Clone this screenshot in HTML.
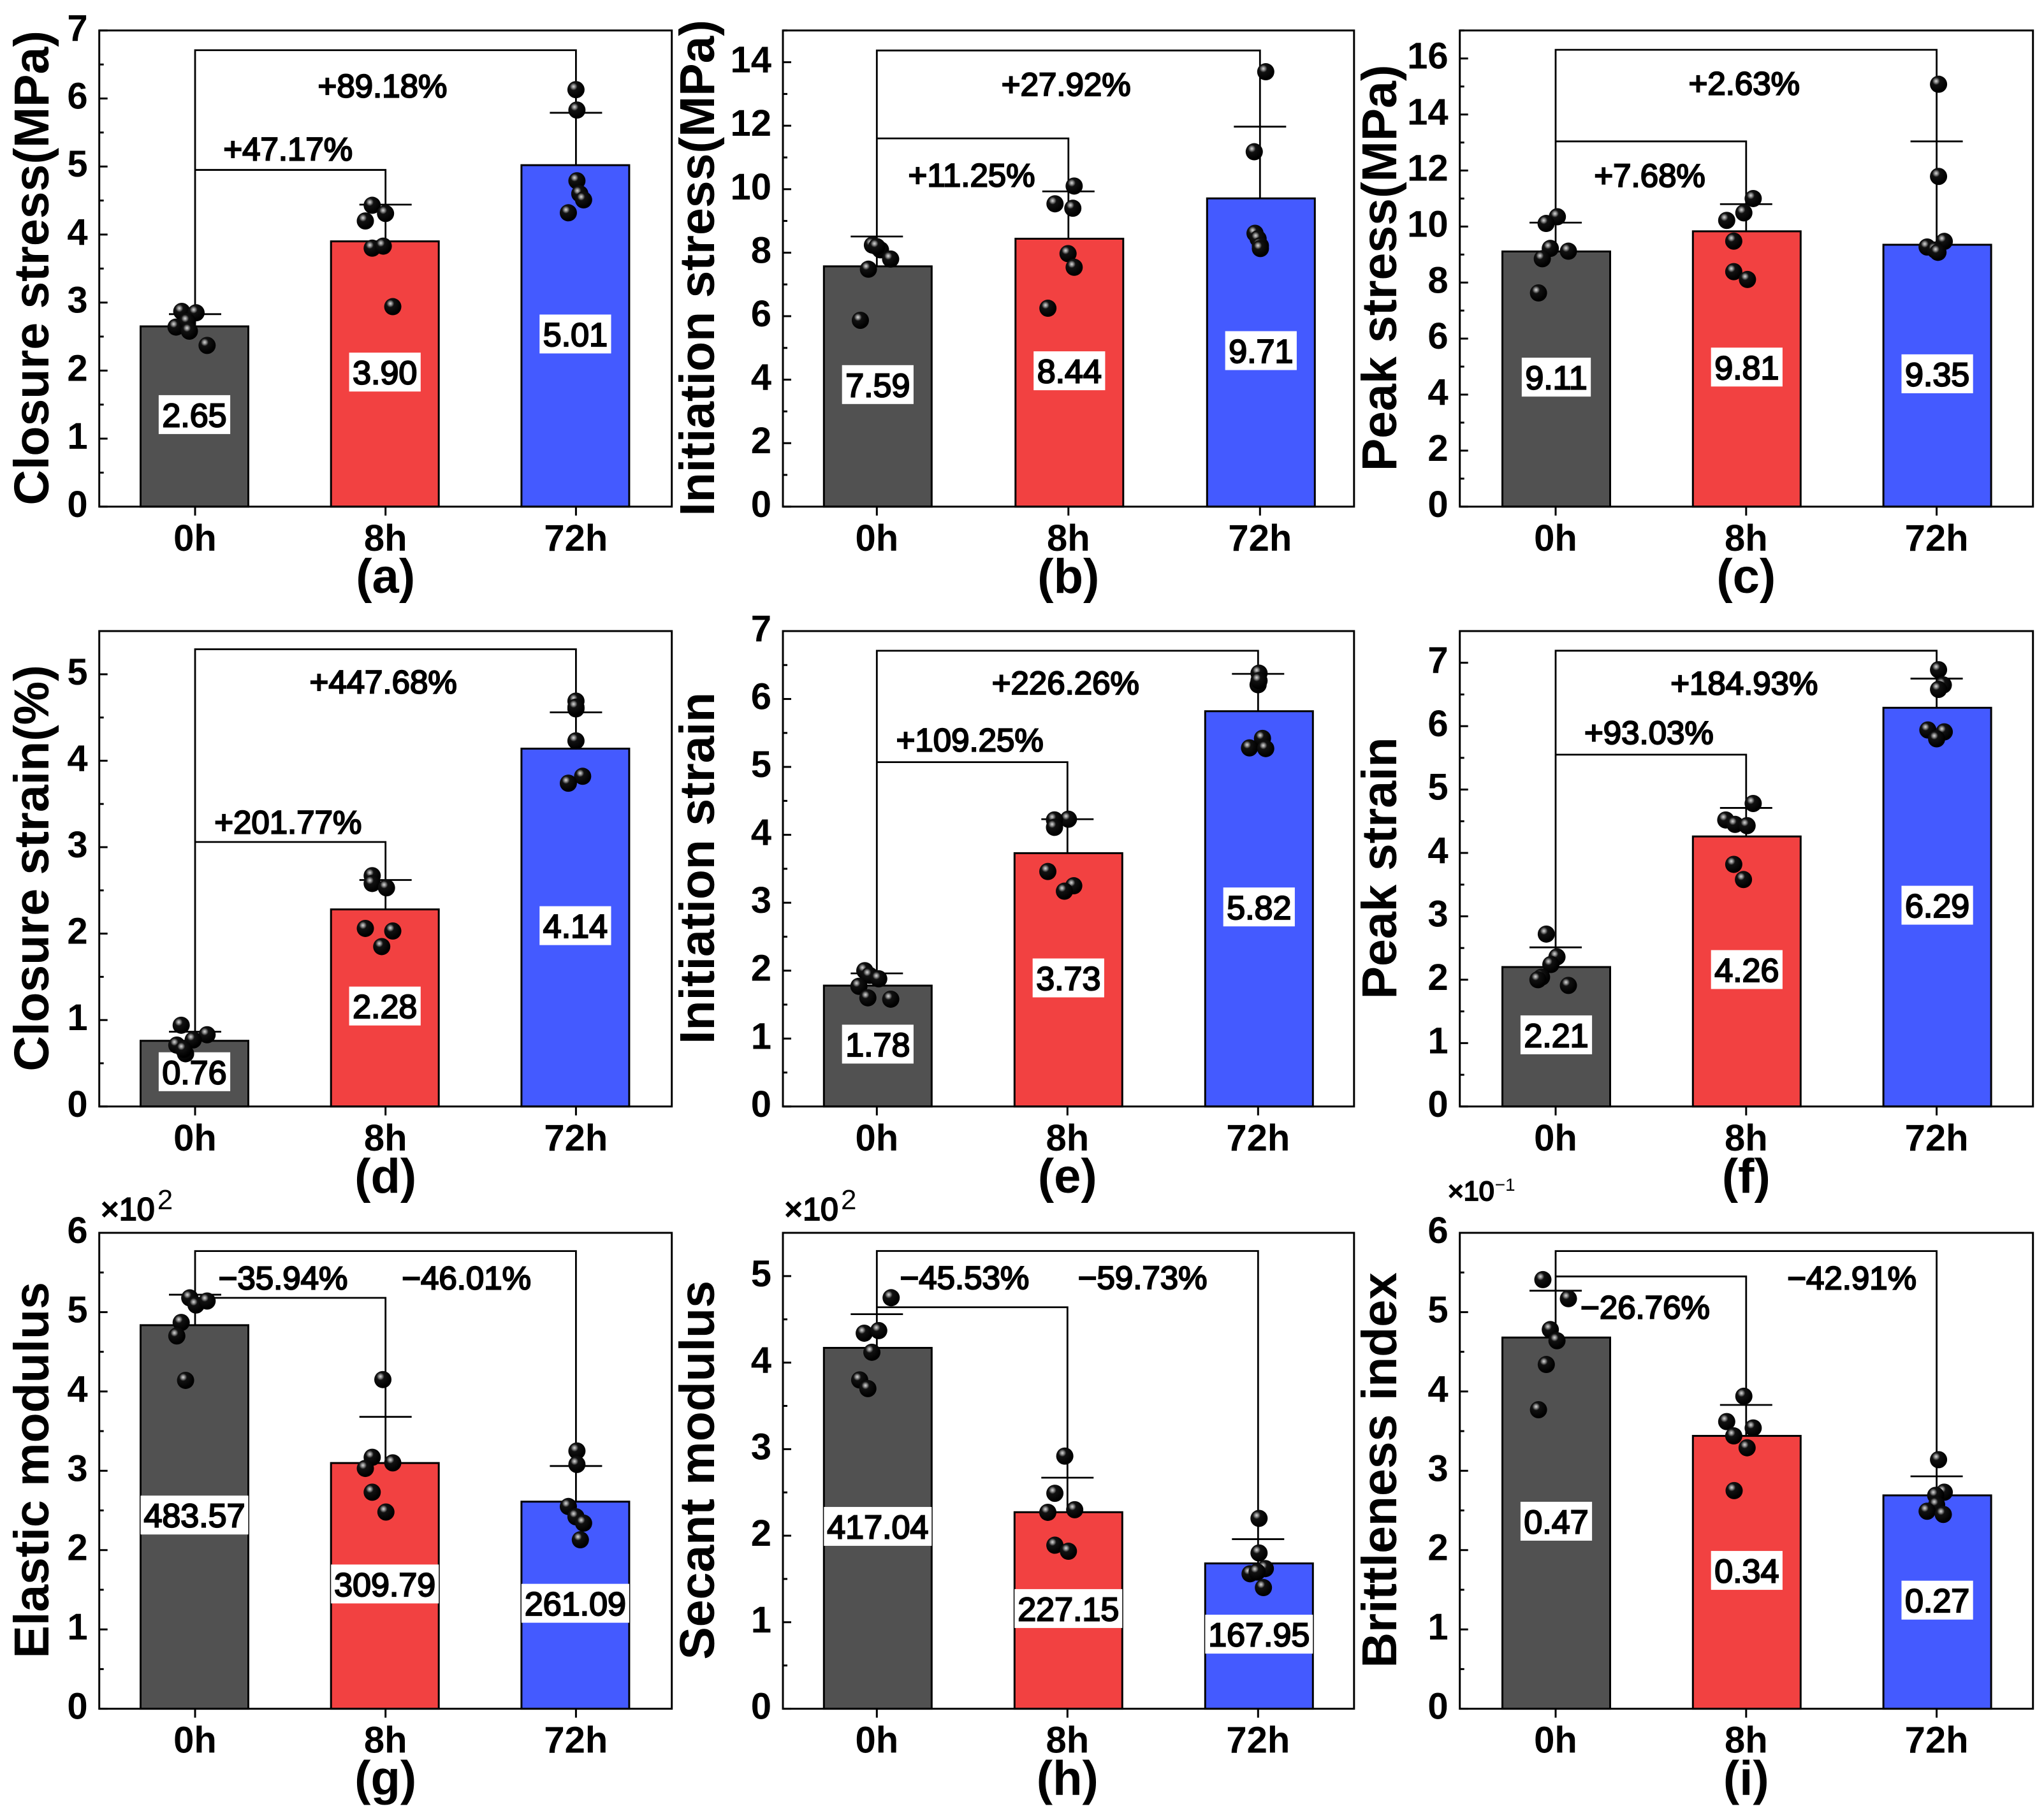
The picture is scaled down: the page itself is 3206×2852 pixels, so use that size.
<!DOCTYPE html>
<html lang="en">
<head>
<meta charset="utf-8">
<title>Mechanical properties at 0h, 8h and 72h</title>
<style>
  html, body { margin: 0; padding: 0; background: #fff; }
  svg { display: block; }
  text { font-family: "Liberation Sans", Arial, sans-serif; fill: #000; }
</style>
</head>
<body>
<svg id="figure" xmlns="http://www.w3.org/2000/svg" width="3206" height="2852" viewBox="0 0 3206 2852">
  <defs>
    <radialGradient id="sphere" cx="0.36" cy="0.32" r="0.62">
      <stop offset="0" stop-color="#d8d8d8"/>
      <stop offset="0.16" stop-color="#8a8a8a"/>
      <stop offset="0.36" stop-color="#111"/>
      <stop offset="1" stop-color="#000"/>
    </radialGradient>
  </defs>
  <rect x="0" y="0" width="3206" height="2852" fill="#ffffff"/>
</svg>
<script>
// ---------- shared category data ----------
const categories = ['0h', '8h', '72h'];
const barColors = ['#515151', '#F24141', '#445AFF'];

// ---------- panel (a) closure stress ----------
const aTitle = 'Closure stress(MPa)';
const aYMax = 7;
const aYTicks = [0, 1, 2, 3, 4, 5, 6, 7];
const aBars = [2.65, 3.90, 5.02];
const aLabels = ['2.65', '3.90', '5.01'];
const aCaps = [2.83, 4.44, 5.79];
const aPoints = [[2.87, 2.85, 2.64, 2.72, 2.58, 2.37], [4.43, 4.31, 4.20, 3.80, 3.83, 2.94], [6.13, 5.83, 4.79, 4.60, 4.51, 4.32]];
const aJitter = [[-0.07, 0.005, -0.1, -0.04, -0.03, 0.063], [-0.07, 0, -0.106, -0.07, -0.012, 0.038], [0, 0.005, 0.005, 0.02, 0.04, -0.04]];
const aBrackets = [6.71, 4.95];
const aPercents = ['+89.18%', '+47.17%'];
const aPercentCat = [0.984, 0.488];
const aPercentVal = [6.02, 5.09];

// ---------- panel (b) initiation stress ----------
const bTitle = 'Initiation stress(MPa)';
const bYMax = 15;
const bYTicks = [0, 2, 4, 6, 8, 10, 12, 14];
const bBars = [7.57, 8.44, 9.71];
const bLabels = ['7.59', '8.44', '9.71'];
const bCaps = [8.51, 9.93, 11.97];
const bPoints = [[8.24, 8.09, 7.80, 7.48, 5.87, 8.19], [10.10, 9.54, 9.40, 7.97, 7.54, 6.25], [13.70, 11.18, 8.61, 8.44, 8.22, 8.13]];
const bJitter = [[-0.023, 0.019, 0.072, -0.044, -0.086, 0], [0.03, -0.07, 0.023, -0.002, 0.03, -0.107], [0.03, -0.03, -0.026, -0.01, 0.002, 0.002]];
const bBrackets = [14.37, 11.60];
const bPercents = ['+27.92%', '+11.25%'];
const bPercentCat = [0.988, 0.495];
const bPercentVal = [12.95, 10.09];

// ---------- panel (c) peak stress ----------
const cTitle = 'Peak stress(MPa)';
const cYMax = 17;
const cYTicks = [0, 2, 4, 6, 8, 10, 12, 14, 16];
const cBars = [9.11, 9.83, 9.35];
const cLabels = ['9.11', '9.81', '9.35'];
const cCaps = [10.14, 10.80, 13.04];
const cPoints = [[10.35, 10.11, 9.22, 8.85, 9.12, 7.63], [11.0, 10.49, 10.22, 9.48, 8.39, 8.11], [15.08, 11.79, 9.47, 9.27, 9.16, 9.08]];
const cJitter = [[0.009, -0.05, -0.028, -0.07, 0.067, -0.09], [0.037, -0.012, -0.102, -0.065, -0.065, 0.007], [0.01, 0.01, 0.04, -0.05, -0.007, 0.007]];
const cBrackets = [16.31, 13.04];
const cPercents = ['+2.63%', '+7.68%'];
const cPercentCat = [0.99, 0.494];
const cPercentVal = [14.71, 11.42];

// ---------- panel (d) closure strain ----------
const dTitle = 'Closure strain(%)';
const dYMax = 5.5;
const dYTicks = [0, 1, 2, 3, 4, 5];
const dBars = [0.76, 2.28, 4.14];
const dLabels = ['0.76', '2.28', '4.14'];
const dCaps = [0.865, 2.62, 4.56];
const dPoints = [[0.94, 0.83, 0.77, 0.71, 0.61, 0.66], [2.67, 2.58, 2.53, 2.06, 2.03, 1.85], [4.69, 4.60, 4.23, 3.82, 3.74, 4.62]];
const dJitter = [[-0.073, 0.063, -0.01, -0.096, -0.05, -0.06], [-0.07, -0.07, 0.005, -0.106, 0.038, -0.02], [0, 0, 0, 0.035, -0.04, 0]];
const dBrackets = [5.29, 3.06];
const dPercents = ['+447.68%', '+201.77%'];
const dPercentCat = [0.988, 0.488];
const dPercentVal = [4.78, 3.16];

// ---------- panel (e) initiation strain ----------
const eTitle = 'Initiation strain';
const eYMax = 7;
const eYTicks = [0, 1, 2, 3, 4, 5, 6, 7];
const eBars = [1.78, 3.73, 5.82];
const eLabels = ['1.78', '3.73', '5.82'];
const eCaps = [1.96, 4.23, 6.37];
const ePoints = [[2.0, 1.93, 1.88, 1.77, 1.60, 1.58], [4.23, 4.22, 4.11, 3.46, 3.25, 3.17], [6.38, 6.21, 5.42, 5.28, 5.27, 6.27]];
const eJitter = [[-0.063, -0.038, 0.01, -0.094, -0.047, 0.073], [0.005, -0.068, -0.068, -0.103, 0.033, -0.016], [0.005, 0, 0.023, -0.045, 0.04, 0.005]];
const eBrackets = [6.71, 5.07];
const ePercents = ['+226.26%', '+109.25%'];
const ePercentCat = [0.99, 0.488];
const ePercentVal = [6.07, 5.23];

// ---------- panel (f) peak strain ----------
const fTitle = 'Peak strain';
const fYMax = 7.5;
const fYTicks = [0, 1, 2, 3, 4, 5, 6, 7];
const fBars = [2.20, 4.26, 6.29];
const fLabels = ['2.21', '4.26', '6.29'];
const fCaps = [2.51, 4.71, 6.75];
const fPoints = [[2.72, 2.36, 2.24, 2.04, 2.0, 1.91], [4.78, 4.52, 4.45, 4.43, 3.82, 3.58], [6.89, 6.65, 6.58, 5.94, 5.91, 5.80]];
const fJitter = [[-0.049, 0.007, -0.025, -0.074, -0.093, 0.067], [0.037, -0.107, -0.058, 0.005, -0.065, -0.014], [0.01, 0.035, 0.01, -0.046, 0.04, 0]];
const fBrackets = [7.19, 5.55];
const fPercents = ['+184.93%', '+93.03%'];
const fPercentCat = [0.99, 0.49];
const fPercentVal = [6.50, 5.72];

// ---------- panel (g) elastic modulus (x10^2) ----------
const gTitle = 'Elastic modulus';
const gYMax = 6;
const gYTicks = [0, 1, 2, 3, 4, 5, 6];
const gBars = [4.8357, 3.0979, 2.6109];
const gLabels = ['483.57', '309.79', '261.09'];
const gCaps = [5.22, 3.68, 3.06];
const gPoints = [[5.18, 5.09, 5.14, 4.87, 4.70, 4.14], [4.15, 3.17, 3.10, 3.03, 2.73, 2.48], [3.25, 3.08, 2.55, 2.42, 2.34, 2.13]];
const gJitter = [[-0.028, 0.005, 0.063, -0.073, -0.096, -0.05], [-0.014, -0.07, 0.038, -0.106, -0.07, 0.002], [0.005, 0.005, -0.04, 0, 0.04, 0.023]];
const gBrackets = [5.77, 5.18];
const gPercents = ['\u221235.94%', '\u221246.01%'];
const gPercentCat = [0.462, 1.425];
const gPercentVal = [5.29, 5.29];

// ---------- panel (h) secant modulus (x10^2) ----------
const hTitle = 'Secant modulus';
const hYMax = 5.5;
const hYTicks = [0, 1, 2, 3, 4, 5];
const hBars = [4.1704, 2.2715, 1.6795];
const hLabels = ['417.04', '227.15', '167.95'];
const hCaps = [4.56, 2.67, 1.96];
const hPoints = [[4.75, 4.34, 4.37, 4.12, 3.80, 3.70], [2.92, 2.49, 2.27, 2.30, 1.89, 1.82], [2.20, 1.80, 1.62, 1.56, 1.58, 1.40]];
const hJitter = [[0.075, -0.066, 0.01, -0.026, -0.09, -0.047], [-0.014, -0.066, -0.103, 0.038, -0.066, 0.005], [0.005, 0.005, 0.038, -0.042, -0.005, 0.028]];
const hBrackets = [5.29, 4.64];
const hPercents = ['\u221245.53%', '\u221259.73%'];
const hPercentCat = [0.46, 1.394];
const hPercentVal = [4.85, 4.85];

// ---------- panel (i) brittleness index (x10^-1) ----------
const iTitle = 'Brittleness index';
const iYMax = 6;
const iYTicks = [0, 1, 2, 3, 4, 5, 6];
const iBars = [4.68, 3.44, 2.69];
const iLabels = ['0.47', '0.34', '0.27'];
const iCaps = [5.27, 3.83, 2.93];
const iPoints = [[5.41, 5.17, 4.78, 4.64, 4.34, 3.77], [3.94, 3.62, 3.54, 3.44, 3.29, 2.75], [3.14, 2.73, 2.69, 2.57, 2.49, 2.45]];
const iJitter = [[-0.067, 0.067, -0.028, 0.007, -0.049, -0.09], [-0.012, -0.102, 0.037, -0.065, 0.005, -0.063], [0.01, 0.04, -0.005, 0, -0.05, 0.035]];
const iBrackets = [5.77, 5.45];
const iPercents = ['\u221226.76%', '\u221242.91%'];
const iPercentCat = [0.47, 1.555];
const iPercentVal = [4.92, 5.29];

// ---------- layout (not data) ----------
const columns = [
  { left: 155.7, right: 1053.7, cat0: 306, step: 298.7, titleX: 76, barShift: -1 },
  { left: 1228, right: 2123.8, cat0: 1375.3, step: 299, titleX: 1120, barShift: 1.5 },
  { left: 2289.7, right: 3188.7, cat0: 2440, step: 298.8, titleX: 2190, barShift: 1 }
];
const rows = [
  { top: 47.8, bottom: 794.8 },
  { top: 990, bottom: 1735.8 },
  { top: 1934, bottom: 2680.6 }
];
const panels = [
  { id: 'a', col: 0, row: 0, title: aTitle, yMax: aYMax, yTicks: aYTicks, bars: aBars, labels: aLabels, caps: aCaps, points: aPoints, jitter: aJitter, brackets: aBrackets, percents: aPercents, percentCat: aPercentCat, percentVal: aPercentVal },
  { id: 'b', col: 1, row: 0, step: 300.5, title: bTitle, yMax: bYMax, yTicks: bYTicks, bars: bBars, labels: bLabels, caps: bCaps, points: bPoints, jitter: bJitter, brackets: bBrackets, percents: bPercents, percentCat: bPercentCat, percentVal: bPercentVal },
  { id: 'c', col: 2, row: 0, title: cTitle, yMax: cYMax, yTicks: cYTicks, bars: cBars, labels: cLabels, caps: cCaps, points: cPoints, jitter: cJitter, brackets: cBrackets, percents: cPercents, percentCat: cPercentCat, percentVal: cPercentVal },
  { id: 'd', col: 0, row: 1, title: dTitle, yMax: dYMax, yTicks: dYTicks, bars: dBars, labels: dLabels, caps: dCaps, points: dPoints, jitter: dJitter, brackets: dBrackets, percents: dPercents, percentCat: dPercentCat, percentVal: dPercentVal },
  { id: 'e', col: 1, row: 1, title: eTitle, yMax: eYMax, yTicks: eYTicks, bars: eBars, labels: eLabels, caps: eCaps, points: ePoints, jitter: eJitter, brackets: eBrackets, percents: ePercents, percentCat: ePercentCat, percentVal: ePercentVal },
  { id: 'f', col: 2, row: 1, title: fTitle, yMax: fYMax, yTicks: fYTicks, bars: fBars, labels: fLabels, caps: fCaps, points: fPoints, jitter: fJitter, brackets: fBrackets, percents: fPercents, percentCat: fPercentCat, percentVal: fPercentVal },
  { id: 'g', col: 0, row: 2, title: gTitle, yMax: gYMax, yTicks: gYTicks, bars: gBars, labels: gLabels, caps: gCaps, points: gPoints, jitter: gJitter, brackets: gBrackets, percents: gPercents, percentCat: gPercentCat, percentVal: gPercentVal },
  { id: 'h', col: 1, row: 2, title: hTitle, yMax: hYMax, yTicks: hYTicks, bars: hBars, labels: hLabels, caps: hCaps, points: hPoints, jitter: hJitter, brackets: hBrackets, percents: hPercents, percentCat: hPercentCat, percentVal: hPercentVal },
  { id: 'i', col: 2, row: 2, title: iTitle, yMax: iYMax, yTicks: iYTicks, bars: iBars, labels: iLabels, caps: iCaps, points: iPoints, jitter: iJitter, brackets: iBrackets, percents: iPercents, percentCat: iPercentCat, percentVal: iPercentVal }
];

const NS = 'http://www.w3.org/2000/svg';
const root = document.getElementById('figure');

function make(tag, attrs, parent, content) {
  const node = document.createElementNS(NS, tag);
  for (const k in attrs) node.setAttribute(k, attrs[k]);
  if (content !== undefined) node.textContent = content;
  parent.appendChild(node);
  return node;
}

const HEAVY = { stroke: '#000', 'stroke-width': 2.2, 'paint-order': 'stroke' };
let el;

panels.forEach(function (p) {
  const col = columns[p.col];
  const row = rows[p.row];
  const step = p.step || col.step;
  const xCat = function (c) { return col.cat0 + c * step; };
  const yVal = function (v) { return row.bottom - (v / p.yMax) * (row.bottom - row.top); };

  const g = make('g', {}, root);
  
  

  // bars
  p.bars.forEach(function (v, i) {
    el = make('rect', { x: xCat(i) + col.barShift - 84.5, y: yVal(v), width: 169, height: row.bottom - yVal(v), fill: barColors[i], stroke: '#000', 'stroke-width': 3 }, g);
    
    
  });

  // value labels: white box + text, centred at half the bar height
  p.labels.forEach(function (t, i) {
    const cy = yVal(p.bars[i] / 2) - 3;
    const box = make('rect', { y: cy - 30.5, height: 61, fill: '#fff' }, g);
    
    
    el = make('text', Object.assign({ x: xCat(i) + col.barShift, y: cy + 19, 'text-anchor': 'middle', 'font-size': 52 }, HEAVY), g, t);
    
    
    const w = Math.min(el.getComputedTextLength() + 11, 169);
    box.setAttribute('x', xCat(i) + col.barShift - w / 2);
    box.setAttribute('width', w);
  });

  // frame
  el = make('rect', { x: col.left, y: row.top, width: col.right - col.left, height: row.bottom - row.top, fill: 'none', stroke: '#000', 'stroke-width': 3 }, g);
  
  

  // y ticks (major + midpoint minor, inward)
  const major = p.yTicks[1] - p.yTicks[0];
  for (let n = 0; n * major / 2 <= p.yMax + 1e-6; n++) {
    const v = n * major / 2;
    const len = n % 2 === 0 ? 13 : 7;
    el = make('line', { x1: col.left, x2: col.left + len, y1: yVal(v), y2: yVal(v), stroke: '#000', 'stroke-width': 3 }, g);
    
    
  }
  p.yTicks.forEach(function (v) {
    el = make('text', { x: col.left - 18, y: yVal(v) + 16, 'text-anchor': 'end', 'font-size': 58, 'font-weight': 700 }, g, String(v));
    
    
  });

  // x ticks and labels
  categories.forEach(function (c, i) {
    el = make('line', { x1: xCat(i), x2: xCat(i), y1: row.bottom, y2: row.bottom + 14, stroke: '#000', 'stroke-width': 3 }, g);
    
    
    el = make('text', { x: xCat(i), y: row.bottom + 69, 'text-anchor': 'middle', 'font-size': 58, 'font-weight': 700 }, g, c);
    
    
  });

  // brackets
  const outer = [[xCat(0), yVal(p.caps[0])], [xCat(0), yVal(p.brackets[0])], [xCat(2), yVal(p.brackets[0])], [xCat(2), yVal(p.caps[2])]];
  el = make('polyline', { points: outer.map(function (q) { return q.join(','); }).join(' '), fill: 'none', stroke: '#000', 'stroke-width': 2.8 }, g);
  
  
  const inner = [[xCat(0), yVal(p.brackets[1])], [xCat(1), yVal(p.brackets[1])], [xCat(1), yVal(p.caps[1])]];
  el = make('polyline', { points: inner.map(function (q) { return q.join(','); }).join(' '), fill: 'none', stroke: '#000', 'stroke-width': 2.8 }, g);
  
  

  // error bars
  p.caps.forEach(function (v, i) {
    el = make('line', { x1: xCat(i), x2: xCat(i), y1: yVal(p.bars[i]), y2: yVal(v), stroke: '#000', 'stroke-width': 2.8 }, g);
    
    
    el = make('line', { x1: xCat(i) - 41, x2: xCat(i) + 41, y1: yVal(v), y2: yVal(v), stroke: '#000', 'stroke-width': 2.8 }, g);
    
    
  });

  // data points
  p.points.forEach(function (series, i) {
    series.forEach(function (v, k) {
      el = make('circle', { cx: xCat(i + p.jitter[i][k]), cy: yVal(v), r: 13.5, fill: 'url(#sphere)' }, g);
      
      
    });
  });

  // percent annotations
  p.percents.forEach(function (t, k) {
    el = make('text', Object.assign({ x: xCat(p.percentCat[k]), y: yVal(p.percentVal[k]), 'text-anchor': 'middle', 'font-size': 51 }, HEAVY), g, t);
    
    
  });

  // y axis title
  const cy = (row.top + row.bottom) / 2 - 1;
  el = make('text', { x: col.titleX, y: cy, transform: 'rotate(-90 ' + col.titleX + ' ' + cy + ')', 'text-anchor': 'middle', 'font-size': 77, 'font-weight': 700 }, g, p.title);
  
  

  // panel letter
  el = make('text', { x: xCat(1), y: row.bottom + 135, 'text-anchor': 'middle', 'font-size': 76, 'font-weight': 700 }, g, '(' + p.id + ')');
  
  

  // axis multipliers
  if (p.id === 'g' || p.id === 'h') {
    el = make('text', Object.assign({ x: col.left + 2, y: 1914, 'font-size': 50 }, HEAVY), g, '\u00D710');
    
    
    el = make('text', { x: col.left + 91, y: 1897, 'font-size': 44 }, g, '2');
    
    
  }
  if (p.id === 'i') {
    el = make('text', Object.assign({ x: col.left - 19, y: 1883, 'font-size': 43 }, HEAVY), g, '\u00D710');
    
    
    el = make('text', { x: col.left + 55, y: 1868, 'font-size': 28 }, g, '\u22121');
    
    
  }
});
</script>
</body>
</html>
